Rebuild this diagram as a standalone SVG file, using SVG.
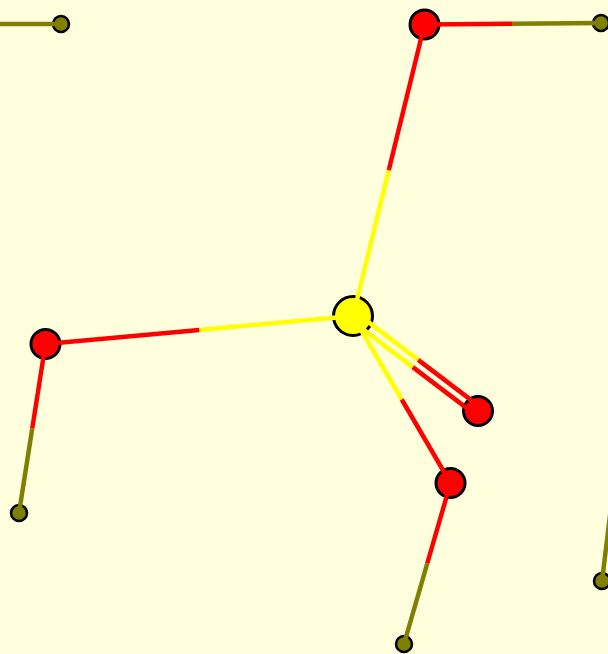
<svg xmlns="http://www.w3.org/2000/svg" width="608" height="654" viewBox="0 0 608 654">
<style>
.bg{fill:#ffffdd}
.n{stroke:#000;stroke-width:3}
.s{stroke-width:2.5}
.y{fill:#ffff00}
.r{fill:#ff0000}
.o{fill:#808000}
.e{stroke-width:4.5;fill:none;stroke-linecap:butt}
.ey{stroke:#ffff00}
.er{stroke:#ff0000}
.eo{stroke:#808000}
</style>
<rect class="bg" x="0" y="0" width="608" height="654"/>
<g id="nodes">
<g id="n-center"><circle class="n y" cx="353" cy="316" r="19.5"/></g>
<g id="n-a"><circle class="n r" cx="424.5" cy="24.5" r="14.5"/></g>
<g id="n-b"><circle class="n r" cx="45.5" cy="344" r="14.5"/></g>
<g id="n-d"><circle class="n r" cx="450.5" cy="483" r="14.5"/></g>
<g id="n-e"><circle class="n r" cx="478" cy="411" r="14.5"/></g>
<g id="n-f"><circle class="n s o" cx="601" cy="23" r="8"/></g>
<g id="n-g"><circle class="n s o" cx="19" cy="513" r="8"/></g>
<g id="n-h"><circle class="n s o" cx="404" cy="644" r="8"/></g>
<g id="n-i"><circle class="n s o" cx="61" cy="24" r="8"/></g>
<g id="n-j"><circle class="n s o" cx="602" cy="581" r="8"/></g>
</g>
<g id="connectors">
<line class="e ey" x1="353" y1="316" x2="388.75" y2="170.25"/>
<line class="e er" x1="388.75" y1="170.25" x2="424.5" y2="24.5"/>
<line class="e ey" x1="353" y1="316" x2="199.25" y2="330"/>
<line class="e er" x1="199.25" y1="330" x2="45.5" y2="344"/>
<line class="e ey" x1="353" y1="316" x2="401.75" y2="399.5"/>
<line class="e er" x1="401.75" y1="399.5" x2="450.5" y2="483"/>
<line class="e ey" x1="355.7" y1="312.4" x2="418.2" y2="359.9"/>
<line class="e er" x1="418.2" y1="359.9" x2="480.7" y2="407.4"/>
<line class="e ey" x1="350.3" y1="319.6" x2="412.8" y2="367.1"/>
<line class="e er" x1="412.8" y1="367.1" x2="475.3" y2="414.6"/>
<line class="e er" x1="424.5" y1="24.5" x2="512.75" y2="23.75"/>
<line class="e eo" x1="512.75" y1="23.75" x2="601" y2="23"/>
<line class="e er" x1="45.5" y1="344" x2="32.25" y2="428.5"/>
<line class="e eo" x1="32.25" y1="428.5" x2="19" y2="513"/>
<line class="e er" x1="450.5" y1="483" x2="427.25" y2="563.5"/>
<line class="e eo" x1="427.25" y1="563.5" x2="404" y2="644"/>
<line class="e eo" x1="-10" y1="24" x2="61" y2="24"/>
<line class="e eo" x1="602" y1="581" x2="612.5" y2="495"/>
</g>
</svg>
